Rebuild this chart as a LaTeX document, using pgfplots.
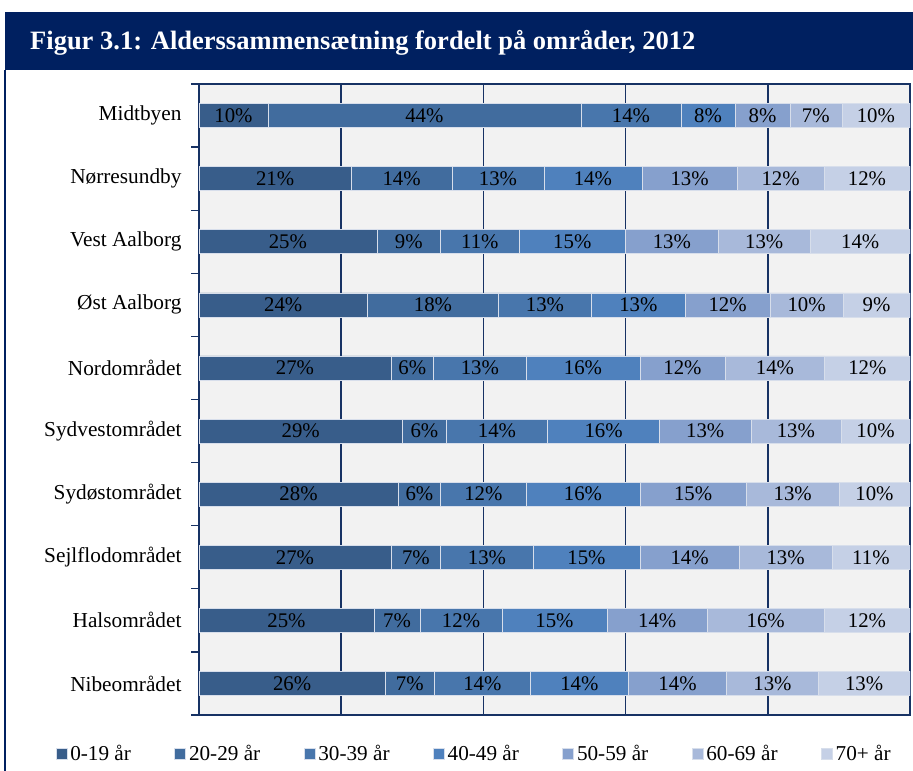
\documentclass[border=0pt]{standalone}
\usepackage{pgfplots}
\pgfplotsset{compat=1.18}
\usepackage{pgfplotstable}
\usepackage{fontspec}
\setmainfont{Liberation Serif}
\definecolor{navy}{RGB}{0,32,96}
\definecolor{gridnavy}{RGB}{23,50,100}
\definecolor{bgc}{RGB}{242,242,242}
\definecolor{cA}{RGB}{56,93,138}
\definecolor{cB}{RGB}{65,108,158}
\definecolor{cC}{RGB}{72,118,172}
\definecolor{cD}{RGB}{79,129,189}
\definecolor{cE}{RGB}{134,160,205}
\definecolor{cF}{RGB}{168,185,218}
\definecolor{cG}{RGB}{197,208,230}
\definecolor{sep}{RGB}{215,222,235}

% widths (share of bar) and printed labels, rows top to bottom
\pgfplotstableread{
w1   w2   w3   w4   w5   w6   w7   l1 l2 l3 l4 l5 l6 l7
9.7  44.0 14.1 7.6  7.7  7.3  9.6  10 44 14 8  8  7  10
21.4 14.2 12.9 13.8 13.4 12.2 12.1 21 14 13 14 13 12 12
25   9    11   15   13   13   14   25 9  11 15 13 13 14
23.7 18.4 13.1 13.2 11.9 10.3 9.4  24 18 13 13 12 10 9
27   6    13   16   12   14   12   27 6  13 16 12 14 12
28.6 6.2  14.2 15.8 12.8 12.7 9.7  29 6  14 16 13 13 10
28   6    12   16   15   13   10   28 6  12 16 15 13 10
27   7    13   15   14   13   11   27 7  13 15 14 13 11
24.6 6.5  11.5 14.8 14.1 16.4 12.1 25 7  12 15 14 16 12
26.2 6.9  13.5 13.8 13.8 12.9 12.9 26 7  14 14 14 13 13
}\data
% label positions: middle of each segment
\pgfplotstablecreatecol[expr={\thisrow{w1}/2}]{c1}\data
\pgfplotstablecreatecol[expr={\thisrow{w1}+\thisrow{w2}/2}]{c2}\data
\pgfplotstablecreatecol[expr={\thisrow{w1}+\thisrow{w2}+\thisrow{w3}/2}]{c3}\data
\pgfplotstablecreatecol[expr={\thisrow{w1}+\thisrow{w2}+\thisrow{w3}+\thisrow{w4}/2}]{c4}\data
\pgfplotstablecreatecol[expr={\thisrow{w1}+\thisrow{w2}+\thisrow{w3}+\thisrow{w4}+\thisrow{w5}/2}]{c5}\data
\pgfplotstablecreatecol[expr={\thisrow{w1}+\thisrow{w2}+\thisrow{w3}+\thisrow{w4}+\thisrow{w5}+\thisrow{w6}/2}]{c6}\data
\pgfplotstablecreatecol[expr={\thisrow{w1}+\thisrow{w2}+\thisrow{w3}+\thisrow{w4}+\thisrow{w5}+\thisrow{w6}+\thisrow{w7}/2}]{c7}\data

\pgfplotsset{
  seg/.style={fill=#1, draw=sep, line width=0.5bp},
  lab/.style={draw=none, mark=none,
    nodes near coords={\pgfplotspointmeta\%},
    point meta=explicit symbolic,
    nodes near coords style={anchor=center, text=black,
      font=\fontsize{20.8bp}{24bp}\selectfont, inner sep=0pt}},
  frame/.style={
    at={(199bp,56bp)}, anchor=south west,
    width=711bp, height=631bp, scale only axis,
    xmin=0, xmax=100, ymin=-0.5, ymax=9.5, y dir=reverse,
    enlargelimits=false},
}

\begin{document}
\begin{tikzpicture}[x=1bp,y=1bp]
\path[use as bounding box] (0,0) rectangle (913,771);
\fill[navy] (5,701) rectangle (913,759);
\draw[navy, line width=1.2bp] (5,0) -- (5,701);
\node[anchor=base west, text=white, font=\fontsize{26.5bp}{30bp}\selectfont\bfseries, inner sep=0pt] at (30,721) {Figur 3.1: Alderssammensætning fordelt på områder, 2012};
\begin{axis}[
  frame,
  xbar stacked, bar width=24bp,
  axis background/.style={fill=bgc},
  axis line style={gridnavy, line width=1.5bp},
  xtick={0,20,...,100}, xticklabels={},
  xmajorgrids, major grid style={gridnavy, line width=1.5bp},
  ytick={0,...,9},
  yticklabels={Midtbyen,Nørresundby,Vest Aalborg,Øst Aalborg,Nordområdet,Sydvestområdet,Sydøstområdet,Sejlflodområdet,Halsområdet,Nibeområdet},
  minor ytick={-0.5,0.5,...,9.5},
  ytick pos=left,
  tick align=outside,
  major tick length=0pt, minor tick length=8bp,
  minor tick style={gridnavy, line width=1.3bp},
  yticklabel style={font=\fontsize{21.3bp}{25bp}\selectfont, xshift=-14bp},
  legend columns=7,
  legend style={at={(-0.2021,-0.0610)}, anchor=west, draw=none, fill=none, inner sep=0pt,
    font=\fontsize{21.2bp}{25bp}\selectfont,
    /tikz/every even column/.append style={column sep=40bp},
    nodes={inner xsep=3.3bp, inner ysep=0pt}},
  legend image code/.code={\fill[#1] (0bp,-5.5bp) rectangle (11bp,5.5bp);},
]
\addplot[seg=cA] table[x=w1, y expr=\coordindex] {\data};
\addplot[seg=cB] table[x=w2, y expr=\coordindex] {\data};
\addplot[seg=cC] table[x=w3, y expr=\coordindex] {\data};
\addplot[seg=cD] table[x=w4, y expr=\coordindex] {\data};
\addplot[seg=cE] table[x=w5, y expr=\coordindex] {\data};
\addplot[seg=cF] table[x=w6, y expr=\coordindex] {\data};
\addplot[seg=cG] table[x=w7, y expr=\coordindex] {\data};
\legend{0-19 år,20-29 år,30-39 år,40-49 år,50-59 år,60-69 år,70+ år}
\end{axis}
\begin{axis}[frame, hide axis]
\addplot[lab] table[x=c1, y expr=\coordindex, meta=l1] {\data};
\addplot[lab] table[x=c2, y expr=\coordindex, meta=l2] {\data};
\addplot[lab] table[x=c3, y expr=\coordindex, meta=l3] {\data};
\addplot[lab] table[x=c4, y expr=\coordindex, meta=l4] {\data};
\addplot[lab] table[x=c5, y expr=\coordindex, meta=l5] {\data};
\addplot[lab] table[x=c6, y expr=\coordindex, meta=l6] {\data};
\addplot[lab] table[x=c7, y expr=\coordindex, meta=l7] {\data};
\end{axis}
\end{tikzpicture}
\end{document}
